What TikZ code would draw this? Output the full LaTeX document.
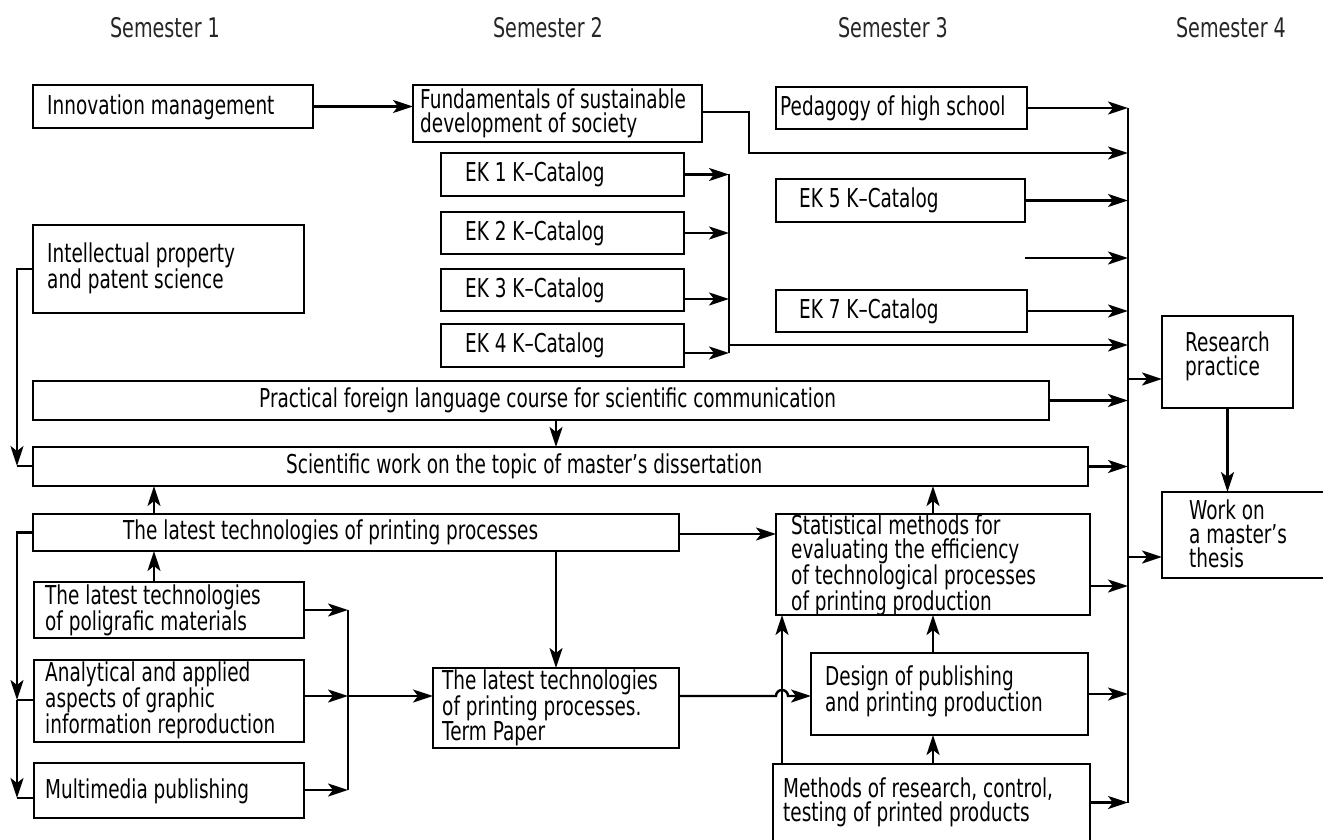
\documentclass[tikz,border=0pt]{standalone}
\usepackage{fontspec}
\setmainfont{DejaVu Sans}[FakeStretch=0.71]
\usetikzlibrary{arrows.meta}
\tikzset{
  box/.style={draw, line width=2.6pt, inner sep=0pt, outer sep=0pt},
  openbox/.style={inner sep=0pt, outer sep=0pt},
  txt/.style={inner sep=0pt, anchor=west, align=left, font=\fontsize{26}{24}\selectfont},
  sem/.style={inner sep=0pt, font=\fontsize{27}{27}\selectfont, text=black!85},
  con/.style={line width=2.4pt},
  arr/.style={con, -{Stealth[length=20pt,width=13pt,inset=5pt]}},
}
\newcommand\mybox[6][box]{\node[#1, minimum width={#5-#3}, minimum height={#6-#4}] (#2) at ({(#3+#5)/2},{(#4+#6)/2}) {};}
\begin{document}
\begin{tikzpicture}[x=1pt,y=-1pt]
\useasboundingbox (0,0) rectangle (1323,840);
\fill[white] (0,0) rectangle (1323,840);

% semester labels
\node[sem] (s1) at (165,28) {Semester 1};
\node[sem] (s2) at (548,28) {Semester 2};
\node[sem] (s3) at (893,28) {Semester 3};
\node[sem] (s4) at (1231,28) {Semester 4};

% boxes
\mybox{innov}{33}{85}{313}{128}
\mybox{fund}{413}{85}{702}{142}
\mybox{ped}{776}{87}{1027}{129}
\mybox{ek1}{441}{153}{684}{196}
\mybox{ek2}{441}{212}{684}{254}
\mybox{ek3}{441}{269}{684}{311}
\mybox{ek4}{441}{324}{684}{367}
\mybox{ek5}{776}{179}{1025}{222}
\mybox{ek7}{776}{290}{1027}{332}
\mybox{intel}{33}{225}{304}{313}
\mybox{prac}{33}{381}{1049}{420}
\mybox{sci}{33}{447}{1088}{486}
\mybox{latest}{33}{514}{679}{551}
\mybox{poli}{34}{582}{304}{638}
\mybox{anal}{34}{660}{304}{742}
\mybox{multi}{34}{763}{304}{818}
\mybox{term}{433}{668}{679}{748}
\mybox{stat}{776}{514}{1090}{615}
\mybox{design}{811}{653}{1088}{735}
\mybox[openbox]{methods}{773}{764}{1090}{841}
\mybox{research}{1162}{316}{1293}{408}
\mybox[openbox]{work}{1162}{492}{1324}{578}
\draw[line width=2.6pt] (methods.south west) -- (methods.north west) -- (methods.north east) -- (methods.south east);
\draw[line width=2.6pt] (work.north east) -- (work.north west) -- (work.south west) -- (work.south east);

% texts
\node[txt] (t-innov) at (47,107) {Innovation management};
\node[txt] (t-fund) at (420,113.5) {Fundamentals of sustainable\\development of society};
\node[txt] (t-ped) at (780,108) {Pedagogy of high school};
\node[txt] (t-ek1) at (465,174.5) {EK 1 K–Catalog};
\node[txt] (t-ek2) at (465,233) {EK 2 K–Catalog};
\node[txt] (t-ek3) at (465,290) {EK 3 K–Catalog};
\node[txt] (t-ek4) at (465,345.5) {EK 4 K–Catalog};
\node[txt] (t-ek5) at (799,200.5) {EK 5 K–Catalog};
\node[txt] (t-ek7) at (799,311) {EK 7 K–Catalog};
\node[txt] (t-intel) at (47,268) {Intellectual property\\and patent science};
\node[txt] (t-prac) at (259,400.5) {Practical foreign language course for scientific communication};
\node[txt] (t-sci) at (286,466.5) {Scientific work on the topic of master’s dissertation};
\node[txt] (t-latest) at (123,532.5) {The latest technologies of printing processes};
\node[txt] (t-poli) at (45,610) {The latest technologies\\of poligrafic materials};
\node[txt] (t-anal) at (45,700) {Analytical and applied\\aspects of graphic\\information reproduction};
\node[txt] (t-multi) at (45,791) {Multimedia publishing};
\node[txt] (t-term) at (442,708) {The latest technologies\\of printing processes.\\Term Paper};
\node[txt] (t-stat) at (791,565) {Statistical methods for\\evaluating the efficiency\\of technological processes\\of printing production};
\node[txt] (t-design) at (825,691) {Design of publishing\\and printing production};
\node[txt] (t-methods) at (783,802) {Methods of research, control,\\testing of printed products};
\node[txt] (t-research) at (1185,356) {Research\\practice};
\node[txt] (t-work) at (1189,534) {Work on\\a master’s\\thesis};

% helper coordinates
\coordinate (busT) at (1128,108);
\coordinate (busB) at (1128,803);
\coordinate (f1) at (749,112);
\coordinate (bFund) at (1128,153);
\coordinate (loose) at (1025,258);
\coordinate (ekj) at (729,345);
\coordinate (ekT) at (729,174);
\coordinate (ekB) at (729,353);
\coordinate (j3) at (729,299);
\coordinate (j4) at (729,353);
\coordinate (bStat) at (1128,586);
\coordinate (bRes) at (1128,379);
\coordinate (bWork) at (1128,557);
\coordinate (L1) at (17,466);
\coordinate (L2) at (17,700);
\coordinate (L3) at (17,798);
\coordinate (M1) at (348,610);
\coordinate (M2) at (348,696);
\coordinate (M3) at (348,790);
\coordinate (x154) at (154,0);
\coordinate (x556) at (556,0);
\coordinate (x933) at (933,0);
\coordinate (x782) at (782,0);
\coordinate (ls) at (679,534);
\coordinate (td) at (679,696);
\coordinate (hopL) at (776,696);

% top connectors
\draw[arr] (innov.east) -- (innov.east -| fund.west);
\draw[arr] (f1 -| fund.east) -- (f1) |- (bFund);
\draw[arr] (ek1.east) -- (ek1.east -| ekT);
\draw[arr] (ek2.east) -- (ek2.east -| ekT);
\draw[arr] (j3 -| ek3.east) -- (j3);
\draw[arr] (j4 -| ek4.east) -- (j4);
\draw[con] (ekT) -- (ekB);
\draw[arr] (ekj) -- (ekj -| busT);

% bus
\draw[con] (busT) -- (busB);
\draw[arr] (ped.east) -- (ped.east -| busT);
\draw[arr] (ek5.east) -- (ek5.east -| busT);
\draw[arr] (loose) -- (loose -| busT);
\draw[arr] (ek7.east) -- (ek7.east -| busT);
\draw[arr] (prac.east) -- (prac.east -| busT);
\draw[arr] (sci.east) -- (sci.east -| busT);
\draw[arr] (bStat -| stat.east) -- (bStat);
\draw[arr] (design.east) -- (design.east -| busT);
\draw[arr] (methods.east) -- (methods.east -| busT);
\draw[arr] (bRes) -- (bRes -| research.west);
\draw[arr] (bWork) -- (bWork -| work.west);
\draw[arr] (research.south) -- (research.south |- work.north);

% left side
\draw[arr] (intel.west) -| (L1);
\draw[con] (L1) -- (L1 -| sci.west);
\draw[arr] (latest.west) -| (L2);
\draw[con] (L2) -- (L2 -| anal.west);
\draw[arr] (L2) -- (L3);
\draw[con] (L3) -- (L3 -| multi.west);

% middle
\draw[arr] (M1 -| poli.east) -- (M1);
\draw[arr] (M2 -| anal.east) -- (M2);
\draw[arr] (M3 -| multi.east) -- (M3);
\draw[con] (M1) -- (M3);
\draw[arr] (M2) -- (M2 -| term.west);

% vertical arrows
\draw[arr] (x154 |- poli.north) -- (x154 |- latest.south);
\draw[arr] (x154 |- latest.north) -- (x154 |- sci.south);
\draw[arr] (x556 |- prac.south) -- (x556 |- sci.north);
\draw[arr] (x556 |- latest.south) -- (x556 |- term.north);
\draw[arr] (x933 |- stat.north) -- (x933 |- sci.south);
\draw[arr] (x933 |- design.north) -- (x933 |- stat.south);
\draw[arr] (x933 |- methods.north) -- (x933 |- design.south);
\draw[arr] (x782 |- methods.north) -- (x782 |- stat.south);

% horizontal to stat/design
\draw[arr] (ls) -- (ls -| stat.west);
\draw[arr] (td) -- (hopL) arc[start angle=180, end angle=360, radius=6] -- (td -| design.west);
\end{tikzpicture}
\end{document}
